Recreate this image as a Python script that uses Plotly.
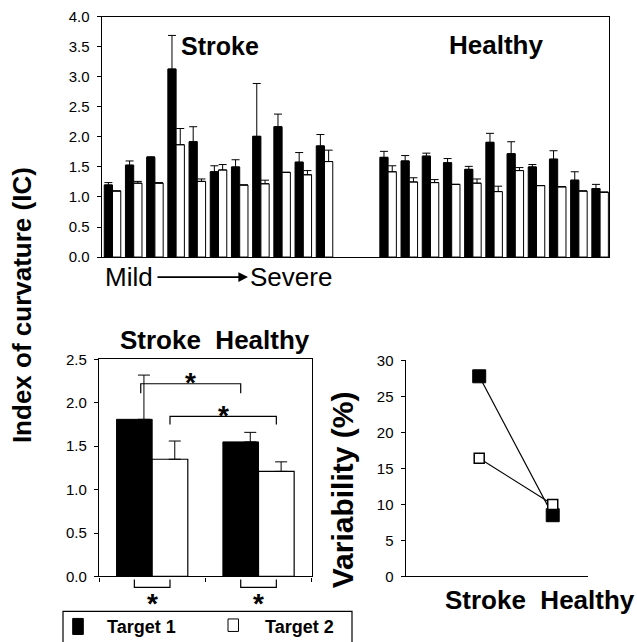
import plotly.graph_objects as go

# ---------------- data ----------------
# Top panel: per-subject index of curvature (mean) and upper error
stroke_subjects = [f"S{i}" for i in range(1, 12)]
healthy_subjects = [f"H{i}" for i in range(1, 12)]
stroke_t1 = [1.20, 1.53, 1.66, 3.13, 1.92, 1.42, 1.50, 2.01, 2.17, 1.58, 1.85]
stroke_t1_err = [0.04, 0.07, 0.01, 0.56, 0.25, 0.10, 0.12, 0.88, 0.21, 0.16, 0.19]
stroke_t2 = [1.10, 1.23, 1.23, 1.87, 1.26, 1.45, 1.20, 1.22, 1.41, 1.37, 1.59]
stroke_t2_err = [0.00, 0.03, 0.01, 0.27, 0.04, 0.09, 0.00, 0.06, 0.00, 0.07, 0.19]
healthy_t1 = [1.66, 1.60, 1.68, 1.57, 1.46, 1.91, 1.72, 1.50, 1.63, 1.28, 1.14]
healthy_t1_err = [0.10, 0.09, 0.05, 0.07, 0.05, 0.15, 0.20, 0.04, 0.14, 0.14, 0.07]
healthy_t2 = [1.42, 1.25, 1.24, 1.21, 1.23, 1.09, 1.44, 1.19, 1.17, 1.10, 1.08]
healthy_t2_err = [0.10, 0.07, 0.05, 0.00, 0.07, 0.09, 0.05, 0.00, 0.00, 0.00, 0.00]

# Bottom-left: group means
groups = ["Stroke", "Healthy"]
mean_t1 = [1.81, 1.55]
mean_t1_err = [0.51, 0.11]
mean_t2 = [1.35, 1.21]
mean_t2_err = [0.21, 0.11]

# Bottom-right: variability (%)
var_t1 = [27.8, 8.5]
var_t2 = [16.4, 10.0]

series_names = ["Target 1", "Target 2"]
y_ticks_top = [0.0, 0.5, 1.0, 1.5, 2.0, 2.5, 3.0, 3.5, 4.0]

# ---------------- layout helpers ----------------
W, H = 637, 642
FONT = "Liberation Sans, Arial, sans-serif"
# the photographed page is slightly compressed vertically; compensate
V_OFF, V_SCALE = 8.2, 0.9725


def px(x):
    return x / W


def py(y):
    return 1 - ((y - V_OFF) / V_SCALE) / H


# positions: stroke subjects in slots 0..10, two empty slots, healthy in 13..23
GAP = 2
x_stroke = list(range(len(stroke_subjects)))
x_healthy = [len(stroke_subjects) + GAP + i for i in range(len(healthy_subjects))]
x_top = x_stroke + x_healthy
t1_top = stroke_t1 + healthy_t1
t1_top_err = stroke_t1_err + healthy_t1_err
t2_top = stroke_t2 + healthy_t2
t2_top_err = stroke_t2_err + healthy_t2_err

BW_TOP = 0.39
BW_BOT = 0.335
x_groups = list(range(len(groups)))

fig = go.Figure()

# ---- top panel bars ----
fig.add_trace(go.Bar(
    x=x_top, y=t1_top, width=BW_TOP, offset=-BW_TOP, name=series_names[0],
    marker=dict(color="black", line=dict(color="black", width=1)),
    error_y=dict(type="data", symmetric=False, array=t1_top_err,
                 arrayminus=[0] * len(t1_top), color="black", thickness=1, width=4),
    xaxis="x", yaxis="y", showlegend=False))
fig.add_trace(go.Bar(
    x=x_top, y=t2_top, width=BW_TOP, offset=0, name=series_names[1],
    marker=dict(color="white", line=dict(color="black", width=1)),
    error_y=dict(type="data", symmetric=False, array=t2_top_err,
                 arrayminus=[0] * len(t2_top), color="black", thickness=1, width=4),
    xaxis="x", yaxis="y", showlegend=False))

# ---- bottom-left bars ----
fig.add_trace(go.Bar(
    x=x_groups, y=mean_t1, width=BW_BOT, offset=-BW_BOT, name=series_names[0],
    marker=dict(color="black", line=dict(color="black", width=1)),
    xaxis="x2", yaxis="y2", showlegend=False))
fig.add_trace(go.Bar(
    x=x_groups, y=mean_t2, width=BW_BOT, offset=0, name=series_names[1],
    marker=dict(color="white", line=dict(color="black", width=1.2)),
    xaxis="x2", yaxis="y2", showlegend=False))
# error bars (drawn slightly right of bar centre as in the original)
ERR_SHIFT = 0.09
fig.add_trace(go.Scatter(
    x=[g - BW_BOT / 2 + ERR_SHIFT for g in x_groups], y=mean_t1, mode="markers",
    marker=dict(size=1, color="rgba(0,0,0,0)"),
    error_y=dict(type="data", symmetric=False, array=mean_t1_err,
                 arrayminus=[0, 0], color="black", thickness=1, width=6),
    xaxis="x2", yaxis="y2", showlegend=False, hoverinfo="skip"))
fig.add_trace(go.Scatter(
    x=[g + BW_BOT / 2 + ERR_SHIFT / 2 for g in x_groups], y=mean_t2, mode="markers",
    marker=dict(size=1, color="rgba(0,0,0,0)"),
    error_y=dict(type="data", symmetric=False, array=mean_t2_err,
                 arrayminus=[0, 0], color="black", thickness=1, width=6),
    xaxis="x2", yaxis="y2", showlegend=False, hoverinfo="skip"))

# ---- bottom-right variability ----
fig.add_trace(go.Scatter(
    x=x_groups, y=var_t1, mode="lines+markers", name=series_names[0],
    line=dict(color="black", width=1.2),
    marker=dict(symbol="square", size=13, color="black", line=dict(color="black", width=1)),
    xaxis="x3", yaxis="y3", showlegend=False))
fig.add_trace(go.Scatter(
    x=x_groups, y=var_t2, mode="lines+markers", name=series_names[1],
    line=dict(color="black", width=1.2),
    marker=dict(symbol="square", size=10, color="white", line=dict(color="black", width=1.5)),
    xaxis="x3", yaxis="y3", showlegend=False))

axis_common = dict(showgrid=False, zeroline=False, linecolor="black", linewidth=1.3,
                   tickcolor="black", tickwidth=1.2, ticklen=4,
                   tickfont=dict(family=FONT, size=15, color="black"))

fig.update_layout(
    width=W, height=H, margin=dict(l=0, r=0, t=0, b=0, pad=0),
    paper_bgcolor="white", plot_bgcolor="white",
    font=dict(family=FONT, color="black"),
    barmode="overlay",
    xaxis=dict(domain=[px(101.7), px(609)], range=[-0.51, 23.42], showline=True,
               mirror=True, ticks="", showticklabels=False, anchor="y", **axis_common),
    yaxis=dict(domain=[py(256), py(16)], range=[0, 4], tickvals=y_ticks_top,
               tickformat=".1f", ticks="outside", showline=True, mirror=True,
               anchor="x", ticklabelstandoff=4, **axis_common),
    xaxis2=dict(domain=[px(99), px(311.7)], range=[-0.5, 1.5], tickvals=[-0.5, 0.5, 1.5],
                ticks="outside", showticklabels=False, showline=True, mirror=True,
                anchor="y2", **axis_common),
    yaxis2=dict(domain=[py(575), py(358.3)], range=[0, 2.5], dtick=0.5, tickformat=".1f",
                ticks="outside", showline=True, mirror=True, anchor="x2",
                ticklabelstandoff=4, **axis_common),
    xaxis3=dict(domain=[px(405.7), px(588)], range=[-1, 1.48], ticks="",
                showticklabels=False, showline=True, anchor="y3", **axis_common),
    yaxis3=dict(domain=[py(575), py(359.3)], range=[0, 30], dtick=5, ticks="outside",
                showline=True, anchor="x3", ticklabelstandoff=4, **axis_common),
)

bold = lambda s: f"<b>{s}</b>"
ann = []


def text(x, y, s, size, angle=0, xanchor="center", yanchor="middle", **kw):
    ann.append(dict(x=x, y=y, xref="paper", yref="paper", text=s, showarrow=False,
                    font=dict(family=FONT, size=size, color="black"), textangle=angle,
                    xanchor=xanchor, yanchor=yanchor, **kw))


# titles / labels
text(px(219.5), py(45), bold("Stroke"), 25)
text(px(495.5), py(44), bold("Healthy"), 26)
text(px(129), py(276), "Mild", 26)
text(px(291), py(276), "Severe", 26)
ann.append(dict(x=px(248), y=py(276), xref="paper", yref="paper", ax=-92, ay=0,
                axref="pixel", ayref="pixel", text="", showarrow=True, arrowhead=2,
                arrowsize=1.2, arrowwidth=1.6, arrowcolor="black"))
text(px(22), py(304), bold("Index of curvature (IC)"), 26, angle=-90)
text(px(215), py(339), bold("Stroke&nbsp;&nbsp;Healthy"), 26)
text(px(342), py(489), bold("Variability (%)"), 30, angle=-90)
text(px(540), py(599), bold("Stroke&nbsp;&nbsp;Healthy"), 26)

# significance brackets (bottom-left panel)
c_t1 = [g - BW_BOT / 2 for g in x_groups]
c_t2 = [g + BW_BOT / 2 for g in x_groups]
shapes = []
brackets_top = [  # (x start, x end, y line, y leg)
    (c_t1[0] + 0.06, c_t1[1], 2.22, 2.11),
    (c_t2[0], c_t2[1], 1.845, 1.75),
]
for xa, xb, yl, yg in brackets_top:
    shapes.append(dict(type="path", xref="x2", yref="y2",
                       path=f"M {xa},{yg} L {xa},{yl} L {xb},{yl} L {xb},{yg}",
                       line=dict(color="black", width=1.2)))
    ann.append(dict(x=(xa + xb) / 2, y=yl, xref="x2", yref="y2", text=bold("*"),
                    showarrow=False, font=dict(family=FONT, size=28, color="black"),
                    xanchor="center", yanchor="middle", yshift=1))
for g in x_groups:
    xa, xb = c_t1[g], c_t2[g]
    shapes.append(dict(type="path", xref="x2", yref="paper",
                       path=f"M {xa},{py(578)} L {xa},{py(586)} L {xb},{py(586)} L {xb},{py(578)}",
                       line=dict(color="black", width=1.2)))
    ann.append(dict(x=(xa + xb) / 2, y=py(602), xref="x2", yref="paper", text=bold("*"),
                    showarrow=False, font=dict(family=FONT, size=28, color="black"),
                    xanchor="center", yanchor="middle"))

# legend box (drawn manually, clipped by the page bottom as in the original)
shapes.append(dict(type="rect", xref="paper", yref="paper", x0=px(63), x1=px(352),
                   y0=py(670), y1=py(610), line=dict(color="black", width=1.2),
                   fillcolor="rgba(0,0,0,0)"))
shapes.append(dict(type="rect", xref="paper", yref="paper", x0=px(72.7), x1=px(83.3),
                   y0=py(633), y1=py(617), line=dict(color="black", width=1),
                   fillcolor="black"))
shapes.append(dict(type="rect", xref="paper", yref="paper", x0=px(228), x1=px(238.5),
                   y0=py(630), y1=py(617.5), line=dict(color="black", width=1),
                   fillcolor="white"))
text(px(105), py(626), bold(series_names[0]), 18, xanchor="left")
text(px(263), py(626), bold(series_names[1]), 18, xanchor="left")

fig.update_layout(annotations=ann, shapes=shapes)
fig.write_html(
    "out.html",
    config={"displayModeBar": False},
    post_script="document.body.style.margin='0px'; document.documentElement.style.overflow='hidden';",
)
